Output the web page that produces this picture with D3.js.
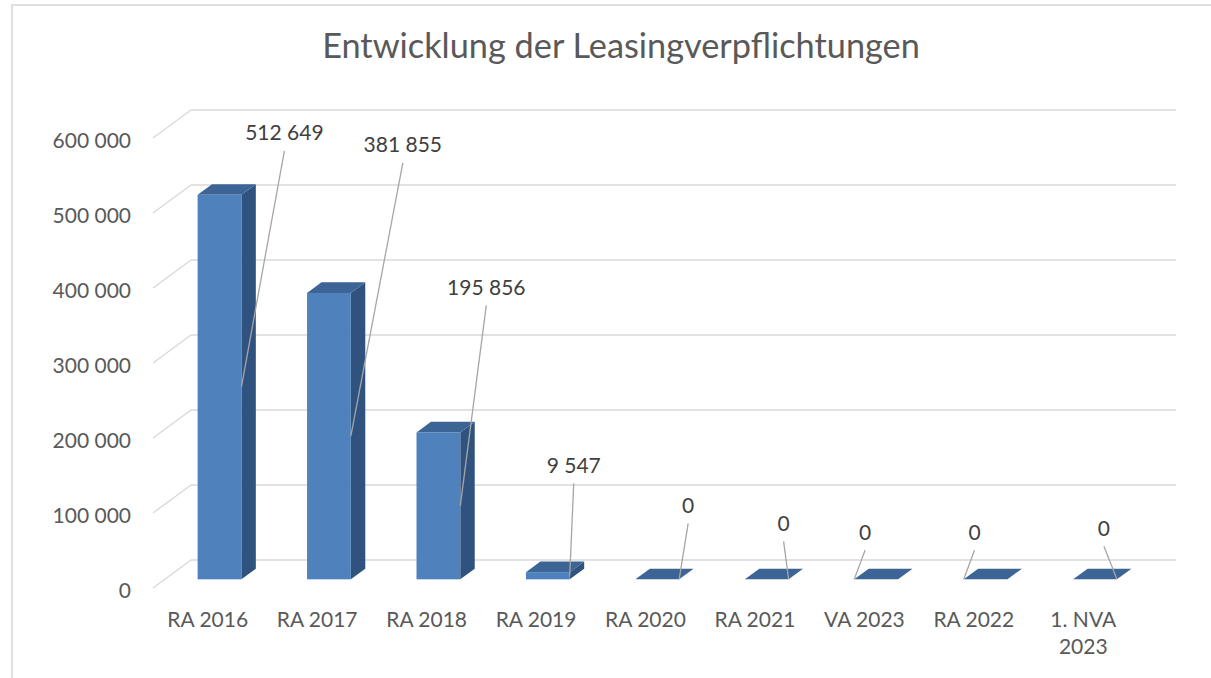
<!DOCTYPE html>
<html>
<head>
<meta charset="utf-8">
<script src="https://cdn.jsdelivr.net/npm/d3@7"></script>
<style>
  html, body { margin: 0; padding: 0; background: #fff; }
  svg { display: block; }
  text { font-family: Lato, "Open Sans", sans-serif; }
</style>
</head>
<body>
<svg id="chart" width="1211" height="678"></svg>
<script>
// ---- data ----
const title = "Entwicklung der Leasingverpflichtungen";
const categories = ["RA 2016", "RA 2017", "RA 2018", "RA 2019", "RA 2020", "RA 2021", "VA 2023", "RA 2022", "1. NVA 2023"];
const values = [512649, 381855, 195856, 9547, 0, 0, 0, 0, 0];
const yTicks = [0, 100000, 200000, 300000, 400000, 500000, 600000];

// ---- layout (label nudges relative to bar front top-right corner, px) ----
const labelNudgeX = [43, 52, 26, 4, 9, -5, -33, -33, -13];
const labelNudgeY = [-62, -148, -145, -107, -74, -56, -47, -47, -51];

const svg = d3.select("#chart");

const fmt = d3.formatLocale({ decimal: ",", thousands: " ", grouping: [3], currency: ["", " €"] }).format(",d");

// 3D geometry
const depth = { dx: 38, dy: -28 };
const f1 = 0.31, f2 = 0.69;

const x = d3.scaleBand().domain(categories).range([153, 1138]).paddingInner(0).paddingOuter(0);
const y = d3.scaleLinear().domain([0, 600000]).range([588, 138]);
const barW = x.bandwidth() * 0.4;

// chart border
svg.append("rect").attr("x", 12).attr("y", 5).attr("width", 1400).attr("height", 900)
  .attr("fill", "none").attr("stroke", "#d9d9d9").attr("stroke-width", 1.6);

// title
svg.append("text").attr("x", 621).attr("y", 58).attr("text-anchor", "middle")
  .attr("font-size", 34.3).attr("fill", "#595959").text(title);

// gridlines: left wall diagonal + back wall horizontal
const grid = svg.append("g");
const x0 = x.range()[0], xEnd = x.range()[1];
yTicks.forEach(t => {
  const yf = y(t);
  grid.append("line").attr("x1", x0).attr("y1", yf).attr("x2", x0 + depth.dx).attr("y2", yf + depth.dy)
    .attr("stroke", "#d9d9d9").attr("stroke-width", 1.4);
  grid.append("line").attr("x1", x0 + depth.dx).attr("y1", yf + depth.dy).attr("x2", xEnd + depth.dx).attr("y2", yf + depth.dy)
    .attr("stroke", "#d9d9d9").attr("stroke-width", 1.4);
});

// y axis labels
const yAxis = d3.axisLeft(y).tickValues(yTicks).tickFormat(fmt).tickSize(0).tickPadding(22);
const gy = svg.append("g").attr("transform", `translate(${x0},2.5)`).call(yAxis);
gy.select(".domain").remove();
gy.selectAll("text").attr("font-family", "Lato, sans-serif").attr("font-size", 21).attr("fill", "#595959");

// x axis labels
const xAxis = d3.axisBottom(x).tickSize(0).tickPadding(0);
const gx = svg.append("g").attr("transform", `translate(0,${y(0)})`).call(xAxis);
gx.select(".domain").remove();
gx.selectAll("text").attr("font-family", "Lato, sans-serif").attr("font-size", 21).attr("fill", "#595959")
  .attr("y", 32).attr("dy", "0.35em")
  .each(function(d) {
    const t = d3.select(this);
    const maxW = x.bandwidth() * 0.9;
    if (this.getComputedTextLength() <= maxW) return;
    const words = d.split(" ");
    t.text(null);
    let line = [], lineNo = 0;
    let ts = t.append("tspan").attr("x", 0).attr("y", 32).attr("dy", "0.35em");
    words.forEach(w => {
      line.push(w);
      ts.text(line.join(" "));
      if (ts.node().getComputedTextLength() > maxW && line.length > 1) {
        line.pop();
        ts.text(line.join(" "));
        line = [w];
        lineNo++;
        ts = t.append("tspan").attr("x", 0).attr("y", 32).attr("dy", (0.35 + lineNo * 1.29) + "em").text(w);
      }
    });
  });

// bars
const ddx = (f2 - f1) * depth.dx, ddy = (f2 - f1) * depth.dy;
const barsG = svg.append("g");
const bars = categories.map((c, i) => {
  const bx0 = x(c) + (x.bandwidth() - barW) / 2 + f1 * depth.dx;
  const bx1 = bx0 + barW;
  const yBot = y(0) + f1 * depth.dy;
  const yTop = y(values[i]) + f1 * depth.dy;
  return { c, v: values[i], i, bx0, bx1, yBot, yTop };
});

const g = barsG.selectAll("g.bar").data(bars).join("g").attr("class", "bar");
g.append("polygon").attr("fill", "#30527E").attr("points", d => [
  [d.bx1, d.yBot], [d.bx1, d.yTop], [d.bx1 + ddx, d.yTop + ddy], [d.bx1 + ddx, d.yBot + ddy]
].map(p => p.join(",")).join(" "));
g.append("polygon").attr("fill", "#3C6596").attr("points", d => [
  [d.bx0, d.yTop], [d.bx1, d.yTop], [d.bx1 + ddx, d.yTop + ddy], [d.bx0 + ddx, d.yTop + ddy]
].map(p => p.join(",")).join(" "));
g.filter(d => d.v > 0).append("rect").attr("fill", "#4F81BD")
  .attr("x", d => d.bx0).attr("y", d => d.yTop).attr("width", barW).attr("height", d => d.yBot - d.yTop);

// data labels + leader lines
const lab = svg.append("g");
bars.forEach(d => {
  const lx = d.bx1 + labelNudgeX[d.i];
  const ly = d.yTop + labelNudgeY[d.i];
  const cx = (d.bx0 + d.bx1) / 2;
  const ax = lx < cx ? d.bx0 : d.bx1;
  const ay = (d.yTop + d.yBot) / 2;
  lab.append("line").attr("x1", lx).attr("y1", ly + 18).attr("x2", ax).attr("y2", ay)
    .attr("stroke", "#a6a6a6").attr("stroke-width", 1.3);
  lab.append("text").attr("x", lx).attr("y", ly).attr("dy", "0.35em").attr("text-anchor", "middle")
    .attr("font-size", 21).attr("fill", "#404040").text(fmt(d.v));
});
</script>
</body>
</html>
